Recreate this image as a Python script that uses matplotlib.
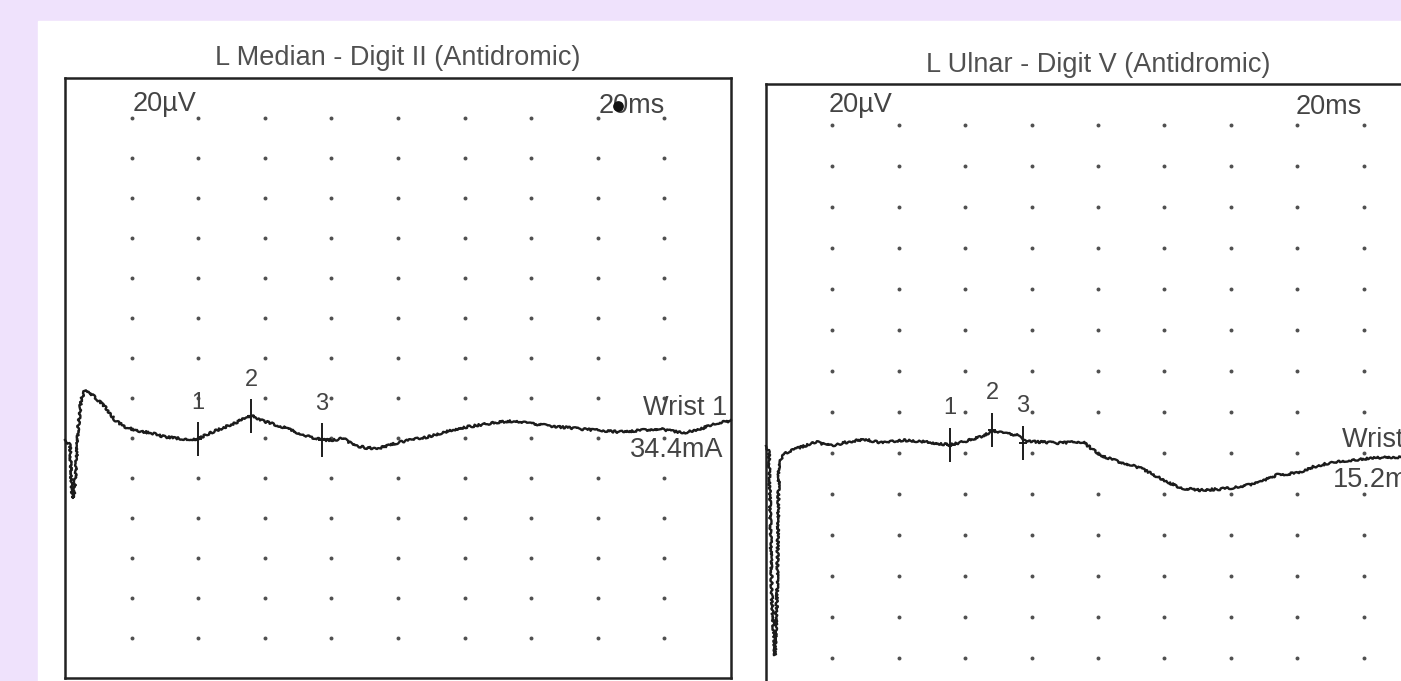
import numpy as np
import matplotlib.pyplot as plt
from matplotlib.patches import Rectangle

W, H = 1401, 681
plt.rcParams['font.family'] = ['Liberation Sans', 'DejaVu Sans']

# --- L Median - Digit II (ms, uV) ---
med_titulo = "L Median - Digit II (Antidromic)"
med_ms = [0.00, 0.09, 0.15, 0.18, 0.21, 0.27, 0.33, 0.39, 0.48, 0.60, 0.75, 0.90,
          1.20, 1.50, 1.80, 2.10, 2.40, 2.70, 3.00, 3.30, 3.60, 3.99, 4.35, 4.74,
          5.17, 5.47, 5.62, 5.95, 6.55, 7.15, 7.72, 8.17, 8.35, 8.65, 9.07, 9.46,
          10.06, 10.87, 11.86, 12.85, 13.36, 13.87, 14.86, 15.86, 16.67, 17.36,
          17.87, 18.56, 19.16, 19.58, 20.00]
med_uv = [-1.5, -3.0, -4.0, -16.5, -30.5, -29.0, -16.5, 3.5, 18.5, 23.5, 22.0, 20.0,
          15.0, 8.5, 5.0, 3.5, 2.5, 1.5, 0.0, -0.5, -1.0, -1.0, 2.0, 4.5,
          7.5, 10.0, 10.5, 8.0, 5.0, 1.0, -1.5, -1.5, -0.5, -4.0, -5.5, -5.5,
          -2.5, 0.0, 4.5, 7.0, 8.0, 7.0, 5.0, 3.5, 2.5, 3.5,
          4.0, 2.0, 4.5, 7.0, 8.0]
med_marca_ms = [3.99, 5.59, 7.72]
med_marca_uv = [-1.0, 10.5, -1.5]
med_marca_txt = ["1", "2", "3"]
med_estimulo = ["Wrist 1", "34.4mA"]

# --- L Ulnar - Digit V (ms, uV) ---
uln_titulo = "L Ulnar - Digit V (Antidromic)"
uln_ms = [0.00, 0.09, 0.18, 0.27, 0.33, 0.39, 0.57, 0.81, 0.96, 1.54, 1.78, 2.14,
          2.29, 2.83, 3.07, 3.52, 4.13, 4.85, 5.54, 5.93, 6.45, 6.81, 7.14, 7.56,
          7.74, 8.16, 8.77, 9.55, 9.97, 10.06, 10.66, 11.27, 11.87, 12.47, 13.07,
          13.67, 14.28, 14.88, 15.39, 15.99, 16.48, 17.08, 17.68, 18.28, 18.89,
          19.13, 20.00]
uln_uv = [0.0, -2.9, -75.0, -102.0, -75.0, -7.8, -3.4, -2.0, -1.0, 2.0, 0.5, 0.5,
          1.5, 2.9, 2.9, 1.5, 2.9, 2.0, 0.5, 2.0, 4.4, 7.3, 6.3, 5.4,
          2.9, 2.0, 1.5, 2.0, -3.4, -4.4, -7.8, -10.7, -15.6, -20.5, -21.5,
          -21.0, -20.0, -17.6, -14.1, -13.2, -10.2, -7.8, -6.8, -5.9, -5.4,
          -5.4, -4.4]
uln_marca_ms = [5.54, 6.81, 7.74]
uln_marca_uv = [0.5, 7.8, 1.5]
uln_marca_txt = ["1", "2", "3"]
uln_estimulo = ["Wrist 1", "15.2mA"]

# escala: 10 div x 2 ms, 15 div x 20 uV
DIV_MS = 2.0
DIV_UV = 20.0
GRIS = '#444444'
TRAZO = '#1c1c1c'


def px_rect(x0, y0, x1, y1):
    return [x0 / W, (H - y1) / H, (x1 - x0) / W, (y1 - y0) / H]


def panel(ax, titulo, ms, uv, y_top, mk_ms, mk_uv, mk_txt, title_y):
    ax.set_xlim(0, 10 * DIV_MS)
    ax.set_ylim(y_top - 15 * DIV_UV, y_top)
    ax.set_xticks([])
    ax.set_yticks([])
    for s in ax.spines.values():
        s.set_linewidth(1.8)
        s.set_color('#222222')

    gx, gy = np.meshgrid(np.arange(1, 10) * DIV_MS, y_top - np.arange(1, 15) * DIV_UV)
    ax.scatter(gx.ravel(), gy.ravel(), s=8, color='#505050', linewidths=0, zorder=1)

    linea, = ax.plot(ms, uv, color=TRAZO, lw=1.7, zorder=3, clip_on=False)
    linea.set_sketch_params(1.1, 4, 12)

    for x, y, t in zip(mk_ms, mk_uv, mk_txt):
        ax.vlines(x, y - 8.5, y + 8.5, color=TRAZO, lw=1.4, zorder=4)
        ax.hlines(y, x - 0.13, x + 0.13, color=TRAZO, lw=1.4, zorder=4)
        ax.annotate(t, (x, y + 8.5), xytext=(0, 14), textcoords='offset points',
                    ha='center', va='center', fontsize=17, color=GRIS)

    ax.text(0.5, title_y, titulo, transform=ax.transAxes, ha='center',
            va='baseline', fontsize=19.5, color='#505050')


fig = plt.figure(figsize=(W / 100, H / 100), dpi=100)
fig.patch.set_facecolor('#efe2fc')
fig.add_artist(Rectangle((38 / W, 0), 1 - 38 / W, (H - 21) / H,
                         transform=fig.transFigure, color='white', zorder=-1))

ax1 = fig.add_axes(px_rect(65, 78, 731, 678))
panel(ax1, med_titulo, med_ms, med_uv, 179.5, med_marca_ms, med_marca_uv,
      med_marca_txt, 1.0217)
ax1.text(2.04, 163, "20µV", ha='left', va='baseline', fontsize=19.5, color=GRIS)
ax1.text(18.0, 162, "20ms", ha='right', va='baseline', fontsize=19.5, color=GRIS)
ax1.scatter([16.6], [165.5], s=45, color='#111111', zorder=5)
ax1.text(19.88, 11, med_estimulo[0], ha='right', va='baseline', fontsize=19.5, color=GRIS)
ax1.text(19.76, -10, med_estimulo[1], ha='right', va='baseline', fontsize=19.5, color=GRIS)

ax2 = fig.add_axes(px_rect(766, 84, 1430, 699))
panel(ax2, uln_titulo, uln_ms, uln_uv, 176.6, uln_marca_ms, uln_marca_uv,
      uln_marca_txt, 1.0195)
ax2.text(1.9, 163, "20µV", ha='left', va='baseline', fontsize=19.5, color=GRIS)
ax2.text(17.95, 162, "20ms", ha='right', va='baseline', fontsize=19.5, color=GRIS)
# en la referencia estos dos textos quedan cortados por el borde derecho
ax2.text(17.35, -0.5, uln_estimulo[0], ha='left', va='baseline', fontsize=19.5, color=GRIS)
ax2.text(17.08, -20, uln_estimulo[1], ha='left', va='baseline', fontsize=19.5, color=GRIS)

fig.savefig('out.png', dpi=100, facecolor=fig.get_facecolor())
